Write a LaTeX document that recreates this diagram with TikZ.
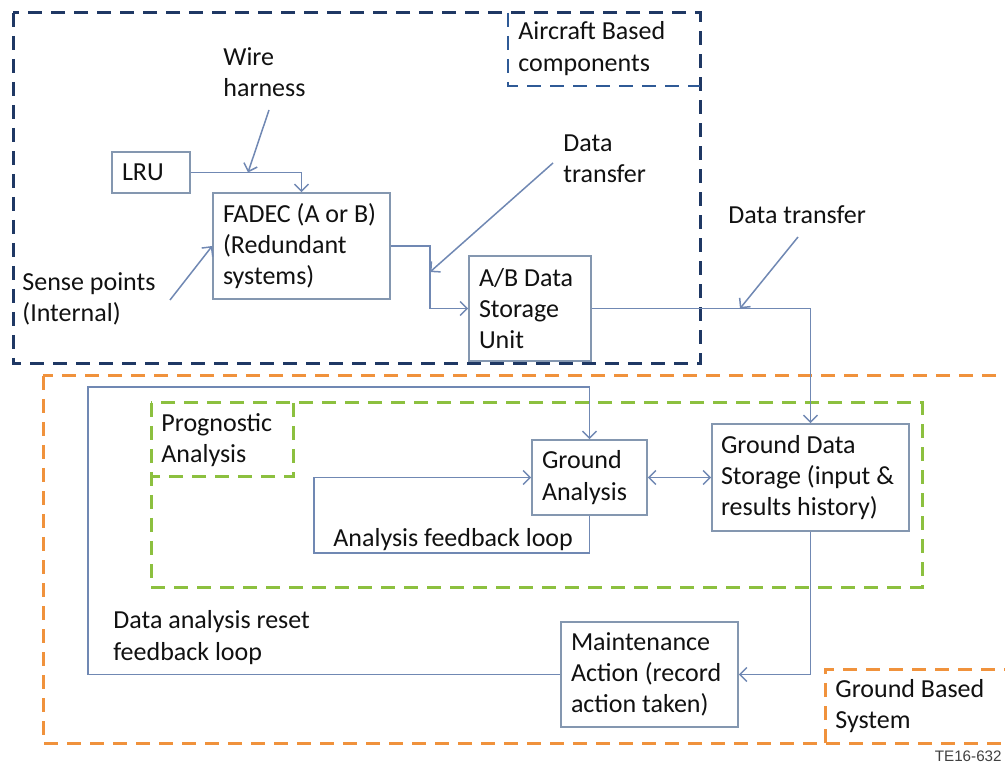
\documentclass[tikz,border=0pt]{standalone}
\usepackage{fontspec}
\setmainfont{Carlito}
\newfontfamily\tagfont{Liberation Sans}
\usetikzlibrary{arrows.meta}
\definecolor{navy}{HTML}{1F3864}
\definecolor{lblblue}{HTML}{2F5A96}
\definecolor{orangec}{HTML}{F0923C}
\definecolor{greenc}{HTML}{8CC03F}
\definecolor{boxc}{HTML}{8497B0}
\definecolor{connc}{HTML}{7088B3}
\definecolor{txt}{HTML}{111111}
\tikzset{
  frame/.style={line width=1.5pt, dash pattern=on 7pt off 4.5pt},
  box/.style={draw=boxc, line width=0.8pt, align=flush left, inner xsep=5pt, inner ysep=0pt, text=txt, fill=white},
  lbl/.style={align=flush left, inner sep=0pt, anchor=west, text=txt},
  conn/.style={draw=connc, line width=0.75pt, -{Straight Barb[length=3.5pt,width=7pt]}},
  bconn/.style={draw=connc, line width=0.75pt, {Straight Barb[length=3.5pt,width=7pt]}-{Straight Barb[length=3.5pt,width=7pt]}}
}
\begin{document}
\begin{tikzpicture}[x=0.5pt,y=-0.5pt,font=\fontsize{13pt}{15.6pt}\selectfont]
\useasboundingbox (0,0) rectangle (1005,763);
\clip (0,0) rectangle (1005,763);

% frames
\draw[frame, navy] (13,13) rectangle (700,364);
\draw[frame, lblblue, line width=1.3pt] (508,13) -- (508,86) -- (700,86);
\draw[frame, orangec] (43,376) rectangle (1015,743);
\draw[frame, greenc] (151,403) rectangle (922,587);
\draw[frame, greenc] (293,403) -- (293,477) -- (151,477);
\draw[frame, orangec] (825,743) -- (825,669) -- (1015,669);

% boxes
\node[box, minimum width=39pt, minimum height=20.5pt, text width=29pt] (lru) at (151,172.5) {LRU};
\node[box, minimum width=88.5pt, minimum height=53pt, text width=78.5pt] (fadec) at (301.5,246) {\mbox{FADEC (A or B)}\\\mbox{(Redundant}\\\mbox{systems)}};
\node[box, minimum width=61pt, minimum height=52.5pt, text width=51pt] (ab) at (530,308.5) {\mbox{A/B Data}\\\mbox{Storage}\\\mbox{Unit}};
\node[box, minimum width=57.5pt, minimum height=37.5pt, text width=47.5pt] (ga) at (589.5,477.5) {\mbox{Ground}\\\mbox{Analysis}};
\node[box, inner xsep=4.5pt, minimum width=98.5pt, minimum height=53.5pt, text width=89.5pt] (gds) at (810.5,477.5) {\mbox{Ground Data}\\\mbox{Storage (input \&}\\\mbox{results history)}};
\node[box, minimum width=88.5pt, minimum height=52.5pt, text width=78.5pt] (maint) at (649.5,674.5) {\mbox{Maintenance}\\\mbox{Action (record}\\\mbox{action taken)}};

% labels
\node[lbl] (lacft) at (518,48.5) {Aircraft Based\\components};
\node[lbl] (lwire) at (223,72) {Wire\\harness};
\node[lbl] (ldt1) at (563,158.5) {Data\\transfer};
\node[lbl] (lsense) at (22,299) {Sense points\\(Internal)};
\node[lbl] (ldt2) at (728,215) {Data transfer};
\node[lbl] (lprog) at (161,440) {Prognostic\\Analysis};
\node[lbl] (lafl) at (333,540) {Analysis feedback loop};
\node[lbl] (ldar) at (113,637.5) {Data analysis reset\\feedback loop};
\node[lbl] (lgbs) at (835,706) {Ground Based\\System};
\node[lbl, anchor=east, text=black!75, font=\tagfont\fontsize{7.6pt}{9pt}\selectfont] (ltag) at (1002,756) {TE16-632};

% connectors
\coordinate (whs) at (269,110);
\coordinate (wht) at (248,172.5);
\coordinate (fa1) at (430,246);
\coordinate (dt1s) at (553,163);
\coordinate (dt1t) at (430,272);
\coordinate (sps) at (170,300);
\coordinate (dt2s) at (798,237);
\coordinate (dt2t) at (740,308.5);
\coordinate (al) at (314,553);
\coordinate (rl) at (88,387);

\draw[conn] (lru.east) -| (fadec.north);
\draw[conn] (whs) -- (wht);
\draw[conn] (fadec.east) -- (fa1) |- (ab.west);
\draw[conn] (dt1s) -- (dt1t);
\draw[conn] (sps) -- (fadec.west);
\draw[conn] (ab.east) -| (gds.north);
\draw[conn] (dt2s) -- (dt2t);
\draw[bconn] (ga.east) -- (gds.west);
\draw[conn] (ga.south) |- (al) |- (ga.west);
\draw[conn] (maint.west) -| (rl) -| (ga.north);
\draw[conn] (gds.south) |- (maint.east);
\end{tikzpicture}
\end{document}
